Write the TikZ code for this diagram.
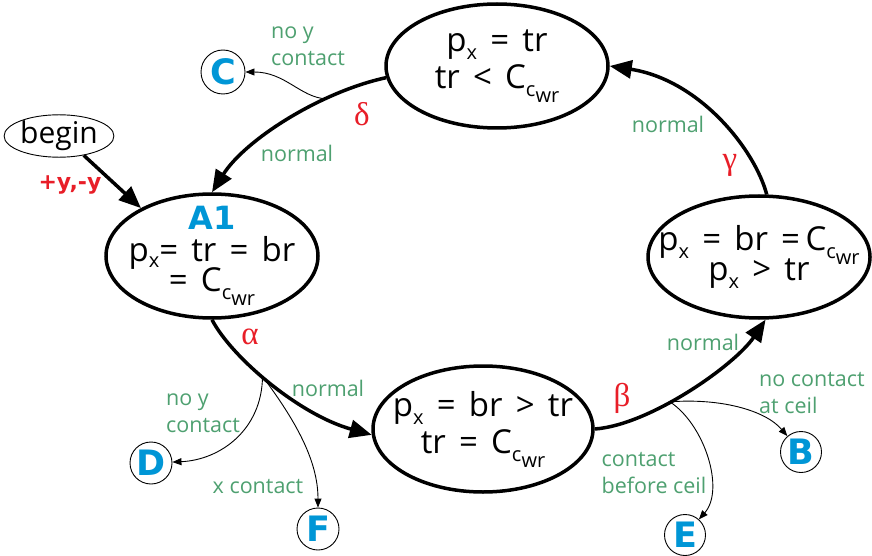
\documentclass[tikz,border=0pt]{standalone}
\usepackage{fontspec}
\setmainfont{Open Sans}
\newfontfamily\grk{Liberation Serif}
\newfontfamily\heavy{DejaVu Sans}
\usetikzlibrary{arrows.meta,shapes.geometric}
\definecolor{lblgreen}{RGB}{78,160,112}
\definecolor{grkred}{RGB}{232,30,40}
\definecolor{tagblue}{RGB}{0,150,214}
% lowered index text (subscripts in the state formulas)
\newcommand\dn[2]{\raisebox{#1}{\fontsize{20}{20}\selectfont #2}}
\newcommand\Ccwr{C\dn{-8pt}{c}\dn{-14pt}{wr}}
\newcommand\px{p\dn{-8pt}{x}}
% wider word spaces inside the state ellipses
\protected\def\widesp{\spaceskip=0.4em plus 0.1em\relax}
\begin{document}
\begin{tikzpicture}[x=1pt,y=-1pt,
  state/.style={draw, ellipse, line width=3.5pt, inner xsep=-45pt, inner ysep=0pt,
    align=center, font=\fontsize{33}{37}\selectfont\widesp},
  tag/.style={draw, circle, line width=0.9pt, inner sep=0pt, minimum size=42pt,
    text=tagblue, font=\heavy\bfseries\fontsize{35}{35}\selectfont},
  main/.style={line width=3.5pt, -{Triangle[length=22pt,width=18pt]}},
  side/.style={line width=0.9pt, -{Triangle[length=9pt,width=7pt]}},
  note/.style={text=lblgreen, font=\fontsize{21.5}{27}\selectfont, align=left, inner sep=0pt},
  grkl/.style={text=grkred, font=\grk\fontsize{33}{33}\selectfont, inner sep=0pt}]
\useasboundingbox (0,0) rectangle (872,556);

% states
\node[state, minimum width=222pt, minimum height=124pt] (T) at (497,66)
  {\px{} = tr\\ tr < \Ccwr};
\node[state, minimum width=212pt, minimum height=124pt, inner ysep=-10pt] (A1) at (212,256)
  {{\color{tagblue}\heavy\bfseries\fontsize{32}{32}\selectfont A1}\\[-5pt]
   p\dn{-6pt}{x}= tr = br\\[-7pt] = \Ccwr};
\node[state, minimum width=220pt, minimum height=126pt] (Bm) at (483,429)
  {\px{} = br > tr\\ tr = \Ccwr};
\node[state, minimum width=222pt, minimum height=122pt] (R) at (759,257)
  {\px{} = br =\,\Ccwr\\[-7pt] \px{} > tr};
\node[draw, ellipse, line width=0.9pt, inner sep=0pt, minimum width=100pt,
  minimum height=34pt, font=\fontsize{30}{30}\selectfont] (begin) at (59,136) {begin};

% exit tags
\node[tag, minimum size=44pt] (C) at (223,72) {C};
\node[tag] (D) at (151,463) {D};
\node[tag] (F) at (318,529) {F};
\node[tag, minimum size=41pt] (B) at (801,452) {B};
\node[tag, minimum size=41pt] (E) at (685,535) {E};

% main cycle
\draw[main] (begin.-38) -- (A1.146);
\draw[main] (T.186) .. controls (320,92) and (245,140) .. (A1.north)
  coordinate[pos=0.3] (dbr);
\draw[main] (A1.south) .. controls (232,358) and (300,415) .. (Bm.183)
  coordinate[pos=0.44] (abr);
\draw[main] (Bm.east) .. controls (650,425) and (735,365) .. (R.-84)
  coordinate[pos=0.4] (bbr);
\draw[main] (R.83) .. controls (755,150) and (700,80) .. (T.east);

% side exits
\draw[side] (dbr) .. controls (300,97) and (285,72) .. (C);
\draw[side] (abr) .. controls (262,430) and (220,460) .. (D);
\draw[side] (abr) .. controls (295,420) and (318,460) .. (F);
\draw[side] (bbr) .. controls (720,398) and (765,410) .. (B);
\draw[side] (bbr) .. controls (705,425) and (725,490) .. (E);

% labels
\node[text=grkred, font=\heavy\bfseries\fontsize{22}{22}\selectfont, inner sep=0pt]
  (lbegin) at (70,185) {+y,-y};
\node[grkl] (ldelta) at (362,114) {δ};
\node[grkl] (lalpha) at (250,337) {α};
\node[grkl] (lbeta) at (622,398) {β};
\node[grkl] (lgamma) at (730,165) {γ};
\node[note] (n1) at (297,153) {normal};
\node[note] (n2) at (328,388) {normal};
\node[note] (n3) at (703,342) {normal};
\node[note] (n4) at (668,124) {normal};
\node[note] (nC) at (308,46) {no y\\contact};
\node[note] (nD) at (203,413) {no y\\contact};
\node[note] (nF) at (258,487) {x contact};
\node[note] (nB) at (812,393) {no contact\\at ceil};
\node[note] (nE) at (654,473) {contact\\before ceil};
\end{tikzpicture}
\end{document}
